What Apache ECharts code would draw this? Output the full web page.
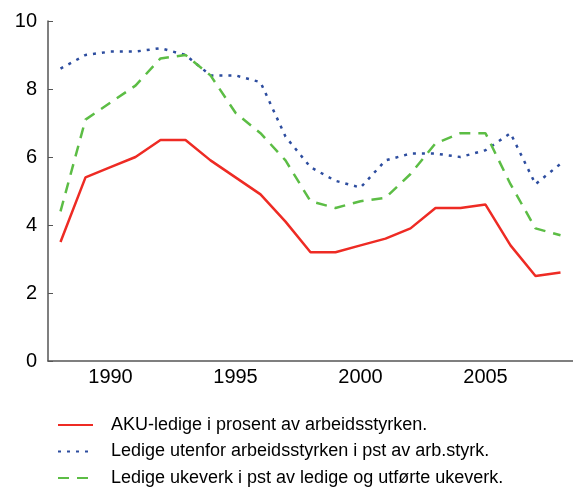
<!DOCTYPE html>
<html>
<head>
<meta charset="utf-8">
<script src="https://cdn.jsdelivr.net/npm/echarts@6/dist/echarts.min.js"></script>
<style>
  html, body { margin: 0; padding: 0; background: #fff; }
  #chart { width: 573px; height: 489px; }
</style>
</head>
<body>
<div id="chart"></div>
<script>
    const years = ['1988', '1989', '1990', '1991', '1992', '1993', '1994', '1995', '1996', '1997', '1998',
        '1999', '2000', '2001', '2002', '2003', '2004', '2005', '2006', '2007', '2008']
    // AKU-ledige
    const aku = [3.5, 5.4, 5.7, 6.0, 6.5, 6.5, 5.9, 5.4, 4.9, 4.1, 3.2, 3.2, 3.4, 3.6, 3.9, 4.5, 4.5, 4.6, 3.4, 2.5, 2.6]
    // ledige utenfor arbeidsstyrken
    const utenfor = [8.6, 9.0, 9.1, 9.1, 9.2, 9.0, 8.4, 8.4, 8.2, 6.6, 5.7, 5.3, 5.1, 5.9, 6.1, 6.1, 6.0, 6.2, 6.7, 5.2, 5.8]
    // ledige ukeverk
    const ukeverk = [4.4, 7.1, 7.6, 8.1, 8.9, 9.0, 8.4, 7.3, 6.7, 5.9, 4.7, 4.5, 4.7, 4.8, 5.5, 6.4, 6.7, 6.7, 5.2, 3.9, 3.7]
    const names = [
        'AKU-ledige i prosent av arbeidsstyrken.',
        'Ledige utenfor arbeidsstyrken i pst av arb.styrk.',
        'Ledige ukeverk i pst av ledige og utførte ukeverk.'
    ]

    const chart = echarts.init(document.getElementById('chart'))
    const font = 'Liberation Sans, Arial, sans-serif'

    chart.setOption({
        animation: false,
        backgroundColor: '#fff',
        grid: { left: 48, right: 0, top: 21, bottom: 128 },
        legend: {
            orient: 'vertical',
            left: 52,
            top: 411,
            height: 85,
            itemWidth: 35,
            itemHeight: 18,
            itemGap: 8.5,
            data: names,
            itemStyle: { opacity: 0 },
            textStyle: { fontFamily: font, fontSize: 18, color: '#000', padding: [0, 0, 0, 13] }
        },
        xAxis: {
            type: 'category',
            data: years,
            boundaryGap: true,
            axisLine: { lineStyle: { color: '#555', width: 1.5 } },
            axisTick: { inside: true, length: 6, lineStyle: { color: '#555' } },
            axisLabel: {
                interval: (i, v) => Number(v) % 5 === 0,
                margin: 6,
                color: '#000',
                fontFamily: font,
                fontSize: 20
            }
        },
        yAxis: {
            type: 'value',
            min: 0,
            max: 10,
            interval: 2,
            splitLine: { show: false },
            axisLine: { show: true, lineStyle: { color: '#555', width: 1.5 } },
            axisTick: { show: true, inside: true, length: 5, lineStyle: { color: '#555' } },
            axisLabel: { margin: 11, color: '#000', fontFamily: font, fontSize: 20 }
        },
        series: [
            {
                name: names[0], type: 'line', data: aku, symbol: 'none',
                lineStyle: { color: '#ee2b24', width: 2.5 }, itemStyle: { color: '#ee2b24' }
            },
            {
                name: names[1], type: 'line', data: utenfor, symbol: 'none',
                lineStyle: { color: '#2d4d9f', width: 2.5, type: [3, 6] }, itemStyle: { color: '#2d4d9f' }
            },
            {
                name: names[2], type: 'line', data: ukeverk, symbol: 'none',
                lineStyle: { color: '#5cbd45', width: 2.5, type: [11, 8] }, itemStyle: { color: '#5cbd45' }
            }
        ]
    })
</script>
</body>
</html>
